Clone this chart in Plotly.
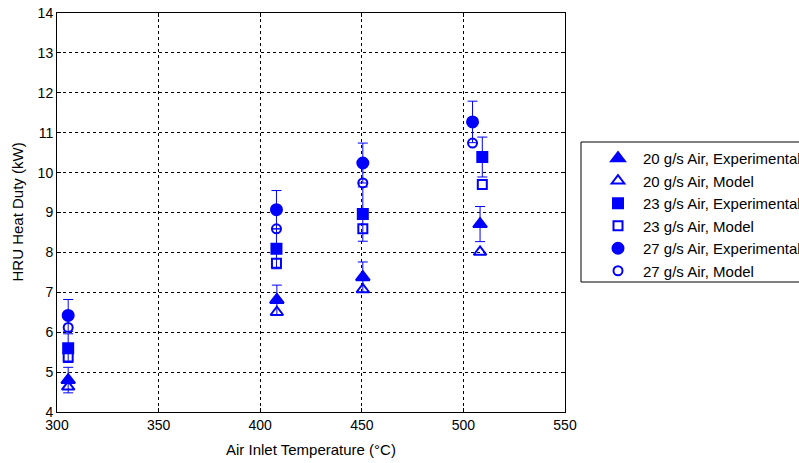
import plotly.graph_objects as go

x_20 = [305.5, 408.2, 450.5, 508.2]
y_20_exp = [4.80, 6.81, 7.38, 8.71]
e_20_exp = [0.32, 0.37, 0.38, 0.44]
y_20_mod = [4.63, 6.50, 7.07, 8.01]

x_23 = [305.5, 408.0, 450.5, 509.3]
y_23_exp = [5.60, 8.09, 8.96, 10.39]
e_23_exp = [0.36, 0.50, 0.68, 0.50]
y_23_mod = [5.38, 7.73, 8.59, 9.70]

x_27 = [305.5, 408.0, 450.5, 504.5]
y_27_exp = [6.42, 9.07, 10.24, 11.27]
e_27_exp = [0.40, 0.48, 0.50, 0.52]
y_27_mod = [6.12, 8.59, 9.74, 10.74]

x_ticks = [300, 350, 400, 450, 500, 550]
y_ticks = [4, 5, 6, 7, 8, 9, 10, 11, 12, 13, 14]

BLUE = "#0000ff"
FONT = "Liberation Sans, Arial, sans-serif"

W, H = 799, 463
ML, MR, MT, MB = 57, 234, 13, 51
PW, PH = W - ML - MR, H - MT - MB

fig = go.Figure()

def add(x, y, name, symbol, size, err=None):
    kw = {}
    if err is not None:
        kw["error_y"] = dict(type="data", array=err, visible=True, color=BLUE,
                             thickness=1, width=5)
    fig.add_trace(go.Scatter(
        x=x, y=y, mode="markers", name=name,
        marker=dict(symbol=symbol, size=size, color=BLUE,
                    line=dict(color=BLUE, width=2)),
        **kw))

add(x_20, y_20_exp, "20 g/s Air, Experimental", "triangle-up", 12, e_20_exp)
add(x_20, y_20_mod, "20 g/s Air, Model", "triangle-up-open", 11)
add(x_23, y_23_exp, "23 g/s Air, Experimental", "square", 10, e_23_exp)
add(x_23, y_23_mod, "23 g/s Air, Model", "square-open", 9)
add(x_27, y_27_exp, "27 g/s Air, Experimental", "circle", 11, e_27_exp)
add(x_27, y_27_mod, "27 g/s Air, Model", "circle-open", 9)

axis_common = dict(
    showline=True, linecolor="black", linewidth=1, mirror="ticks",
    ticks="inside", ticklen=4, tickcolor="black",
    showgrid=True, gridcolor="black", gridwidth=1, griddash="dot",
    zeroline=False, automargin=False,
    tickfont=dict(family=FONT, size=14, color="black"),
)

fig.update_xaxes(range=[300, 550], tickvals=x_ticks, **axis_common)
fig.update_yaxes(range=[4, 14], tickvals=y_ticks, **axis_common)

# axis titles as annotations for exact placement
fig.add_annotation(text="Air Inlet Temperature (°C)", xref="paper", yref="paper",
                   x=0.5, y=-(449 - (MT + PH)) / PH, xanchor="center", yanchor="middle",
                   showarrow=False, font=dict(family=FONT, size=15, color="black"))
fig.add_annotation(text="HRU Heat Duty (kW)", xref="paper", yref="paper",
                   x=-(ML - 17) / PW, y=0.5, xanchor="center", yanchor="middle",
                   textangle=-90, showarrow=False,
                   font=dict(family=FONT, size=15, color="black"))

# legend box (drawn as a shape so the entries can sit further right, clipped at the edge)
fig.add_shape(type="rect", xref="paper", yref="paper",
              x0=(581 - ML) / PW, x1=(820 - ML) / PW,
              y0=1 - (282 - MT) / PH, y1=1 - (142 - MT) / PH,
              line=dict(color="black", width=1), fillcolor="white", layer="below")

fig.update_layout(
    width=W, height=H,
    margin=dict(l=ML, r=MR, t=MT, b=MB, autoexpand=False),
    plot_bgcolor="white", paper_bgcolor="white",
    font=dict(family=FONT, size=14, color="black"),
    showlegend=True,
    legend=dict(x=(593 - ML) / PW, y=1 - (142 - MT) / PH, xanchor="left", yanchor="top",
                borderwidth=0, bgcolor="rgba(0,0,0,0)",
                font=dict(family=FONT, size=15, color="black"),
                tracegroupgap=0, itemwidth=40),
)

fig.write_html("out.html")
